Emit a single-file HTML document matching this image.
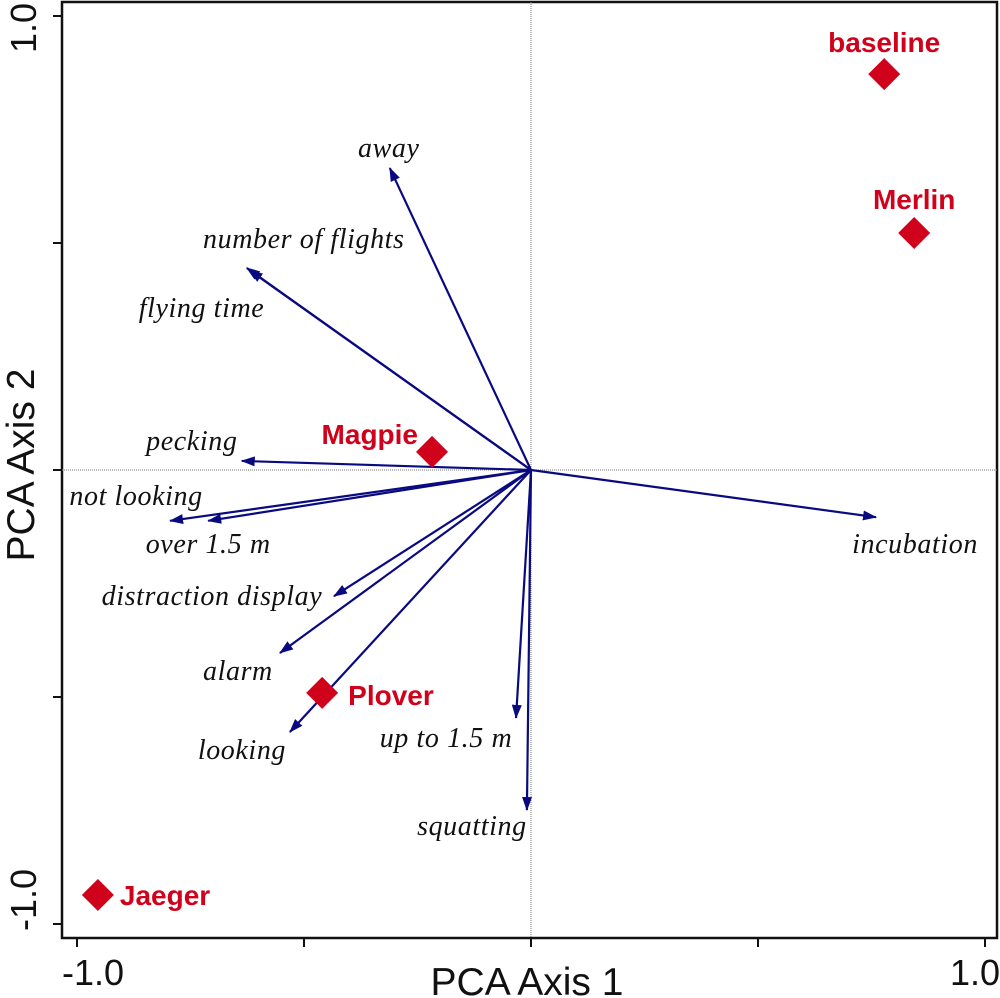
<!DOCTYPE html>
<html><head><meta charset="utf-8"><style>
body{margin:0;background:#fff}
svg{display:block}
.lab{font-family:"Liberation Serif",serif;font-style:italic;font-size:28px;letter-spacing:0.6px;fill:#111}
.pt{font-family:"Liberation Sans",sans-serif;font-weight:bold;font-size:28px;fill:#d0021b}
.ax{font-family:"Liberation Sans",sans-serif;font-size:36px;fill:#111}
.axt{font-family:"Liberation Sans",sans-serif;font-size:39px;fill:#111}
</style></head><body>
<svg id="chart" width="1000" height="998">
<defs><marker id="ah" markerWidth="14" markerHeight="10" refX="13" refY="5" orient="auto" markerUnits="userSpaceOnUse"><path d="M0,0 L14,5 L0,10 Z" fill="#0a0a80"/></marker></defs>
<g id="axes"></g><g id="arrows"></g><g id="points"></g>
</svg>
<script>
const vecNames=["away","number of flights","flying time","pecking","not looking","over 1.5 m","distraction display","alarm","looking","up to 1.5 m","squatting","incubation"];
const vecX=[-0.311,-0.626,-0.62,-0.637,-0.795,-0.711,-0.434,-0.553,-0.531,-0.033,-0.009,0.760];
const vecY=[0.665,0.445,0.44,0.020,-0.112,-0.112,-0.278,-0.403,-0.577,-0.546,-0.749,-0.104];
const ptNames=["baseline","Merlin","Magpie","Plover","Jaeger"];
const ptX=[0.778,0.844,-0.218,-0.460,-0.954];
const ptY=[0.872,0.522,0.040,-0.491,-0.936];
const tickVals=[-1,-0.5,0,0.5,1];
const tickLabels={"-1":"-1.0","1":"1.0"};
const X=v=>531+454*v, Y=v=>470-454*v;
const NS="http://www.w3.org/2000/svg";
function mk(p,t,a){const e=document.createElementNS(NS,t);for(const k in a)e.setAttribute(k,a[k]);p.appendChild(e);return e;}
const ax=document.getElementById('axes');
let f=mk(ax,'rect',{x:62,y:2,width:935,height:936,fill:'none',stroke:'#111','stroke-width':2.5});


let h=mk(ax,'line',{x1:62,x2:997,y1:Y(0),y2:Y(0),stroke:'#777','stroke-width':1,'stroke-dasharray':'1,1'});


let v=mk(ax,'line',{x1:X(0),x2:X(0),y1:2,y2:938,stroke:'#777','stroke-width':1,'stroke-dasharray':'1,1'});


tickVals.forEach(t=>{
 let a=mk(ax,'line',{x1:X(t),x2:X(t),y1:938,y2:947,stroke:'#111','stroke-width':2});
 
 
 let b=mk(ax,'line',{x1:53,x2:62,y1:Y(t),y2:Y(t),stroke:'#111','stroke-width':2});
 
 
 if(tickLabels[t]){
  let tx=mk(ax,'text',{x:X(t)+(t>0?-10:16),y:985,class:'ax','text-anchor':'middle'});tx.textContent=tickLabels[t];
  
  
  let ty=mk(ax,'text',{x:0,y:0,class:'ax','text-anchor':'middle',transform:`translate(36,${t>0?Y(t)+12:Y(t)-24}) rotate(-90)`});ty.textContent=tickLabels[t];
  
  
 }
});
let xt=mk(ax,'text',{x:527,y:995,class:'axt','text-anchor':'middle'});xt.textContent='PCA Axis 1';


let yt=mk(ax,'text',{x:0,y:0,class:'axt','text-anchor':'middle',transform:'translate(34,465) rotate(-90)'});yt.textContent='PCA Axis 2';


const off=[[-1,-11],[57,-20],[-48,47],[-50,-11],[-34,-16],[0,32],[-122,9],[-42,27],[-48,27],[-70,29],[-55,25],[39,36]];
const ag=document.getElementById('arrows');
vecNames.forEach((n,i)=>{
 let l=mk(ag,'line',{x1:X(0),y1:Y(0),x2:X(vecX[i]),y2:Y(vecY[i]),stroke:'#0a0a80','stroke-width':2.2,'marker-end':'url(#ah)'});
 
 
 let t=mk(ag,'text',{x:X(vecX[i])+off[i][0],y:Y(vecY[i])+off[i][1],class:'lab','text-anchor':'middle'});t.textContent=n;
 
 
});
const poff=[[0,-22,'middle'],[0,-24,'middle'],[-14,-8,'end'],[26,12,'start'],[22,10,'start']];
const pg=document.getElementById('points');
ptNames.forEach((n,i)=>{
 const cx=X(ptX[i]),cy=Y(ptY[i]),s=16;
 let d=mk(pg,'polygon',{points:`${cx},${cy-s} ${cx+s},${cy} ${cx},${cy+s} ${cx-s},${cy}`,fill:'#d0021b'});
 
 
 let t=mk(pg,'text',{x:cx+poff[i][0],y:cy+poff[i][1],class:'pt','text-anchor':poff[i][2]});t.textContent=n;
 
 
});
</script>
</body></html>
